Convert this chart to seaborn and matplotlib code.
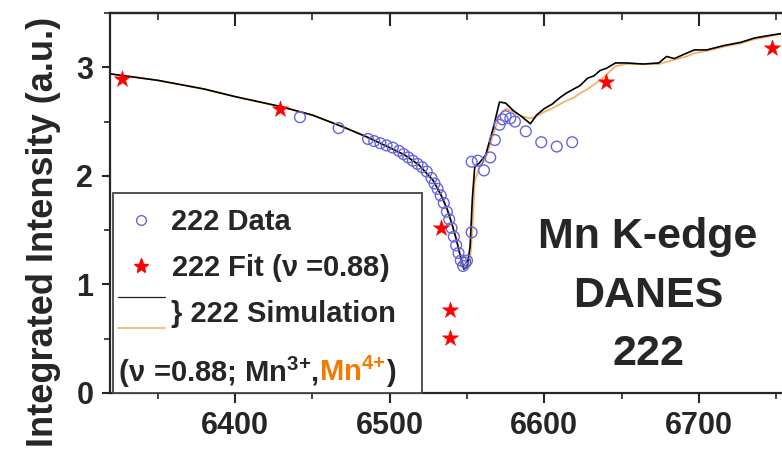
import matplotlib
matplotlib.use("Agg")
import matplotlib.pyplot as plt
import seaborn as sns
from matplotlib.legend_handler import HandlerBase
from matplotlib.lines import Line2D
from matplotlib.patches import Rectangle
from matplotlib.offsetbox import TextArea, HPacker, AnchoredOffsetbox
from matplotlib.ticker import MultipleLocator

# --- measured 222 reflection intensity (open circles) ---
data_energy = [6442, 6467, 6486, 6490, 6494, 6498, 6502, 6506, 6509, 6512,
               6515, 6518, 6521, 6524, 6527, 6529, 6531, 6533, 6535, 6537,
               6538.5, 6540, 6541.5, 6543, 6544.5, 6546, 6547.5, 6549, 6550,
               6553, 6553, 6557, 6561, 6565, 6568, 6571, 6573, 6575, 6578,
               6581, 6588, 6598, 6608, 6618]
data_intensity = [2.54, 2.44, 2.34, 2.32, 2.30, 2.28, 2.26, 2.23, 2.20, 2.17,
                  2.14, 2.11, 2.08, 2.04, 1.98, 1.93, 1.88, 1.82, 1.75, 1.67,
                  1.60, 1.52, 1.44, 1.36, 1.29, 1.22, 1.17, 1.20, 1.22,
                  1.48, 2.13, 2.14, 2.05, 2.17, 2.33, 2.47, 2.52, 2.55, 2.53,
                  2.50, 2.41, 2.31, 2.27, 2.31]

# --- fitted intensities, nu = 0.88 (stars) ---
fit_energy = [6327, 6429, 6533, 6539, 6539, 6640, 6747]
fit_intensity = [2.89, 2.62, 1.52, 0.76, 0.51, 2.86, 3.18]

# --- DANES simulations (Mn3+ black, Mn4+ orange) ---
sim_energy = [6319, 6350, 6380, 6400, 6429, 6450, 6470, 6485, 6500, 6510,
              6519, 6528, 6533, 6537, 6540, 6543, 6546, 6548, 6550, 6552,
              6553.5, 6555, 6558, 6562, 6567, 6571, 6575, 6580, 6585, 6591,
              6595, 6600, 6605, 6610, 6614, 6619, 6623, 6628, 6632, 6636,
              6640, 6646, 6653, 6664, 6674, 6679, 6684, 6692, 6697, 6705,
              6716, 6727, 6736, 6744, 6753]
sim_mn3 = [2.94, 2.88, 2.80, 2.73, 2.64, 2.56, 2.45, 2.36, 2.26, 2.19,
           2.10, 1.96, 1.83, 1.70, 1.57, 1.42, 1.24, 1.14, 1.16, 1.35,
           1.80, 2.08, 2.12, 2.19, 2.44, 2.68, 2.67, 2.60, 2.55, 2.48,
           2.56, 2.62, 2.66, 2.72, 2.76, 2.80, 2.83, 2.90, 2.92, 2.97,
           2.99, 3.04, 3.04, 3.03, 3.04, 3.10, 3.08, 3.13, 3.16, 3.16,
           3.20, 3.23, 3.27, 3.29, 3.31]
sim_mn4 = [2.94, 2.88, 2.80, 2.73, 2.64, 2.56, 2.45, 2.36, 2.26, 2.19,
           2.10, 1.96, 1.83, 1.70, 1.57, 1.42, 1.26, 1.17, 1.15, 1.22,
           1.50, 1.95, 2.08, 2.16, 2.38, 2.56, 2.62, 2.59, 2.55, 2.53,
           2.55, 2.59, 2.62, 2.66, 2.69, 2.72, 2.76, 2.80, 2.84, 2.88,
           2.93, 3.01, 3.03, 3.03, 3.03, 3.05, 3.07, 3.10, 3.13, 3.15,
           3.19, 3.22, 3.26, 3.28, 3.31]

xticks = [6400, 6500, 6600, 6700]
yticks = [0, 1, 2, 3]

BLUE = "#6666dd"
ORANGE = "#f4b066"
TEXT_ORANGE = "#f47a00"
LEG_FS = 21

sns.set_style("ticks")
plt.rcParams.update({
    "font.family": ["Liberation Sans", "DejaVu Sans"],
    "font.weight": "bold",
    "axes.labelweight": "bold",
    "mathtext.fontset": "custom",
    "mathtext.rm": "Liberation Sans:bold",
    "mathtext.bf": "Liberation Sans:bold",
    "mathtext.sf": "Liberation Sans",
    "mathtext.default": "rm",
    "axes.linewidth": 1.6,
    "xtick.major.width": 1.5, "ytick.major.width": 1.5,
    "xtick.minor.width": 1.2, "ytick.minor.width": 1.2,
    "xtick.major.size": 7, "ytick.major.size": 6,
    "xtick.minor.size": 4, "ytick.minor.size": 4,
})

fig = plt.figure(figsize=(7.82, 4.57), dpi=100)
ax = fig.add_axes([110 / 782, 1 - 393 / 457, 671 / 782, 380 / 457])

sns.lineplot(x=sim_energy, y=sim_mn4, color=ORANGE, lw=1.3, sort=False,
             estimator=None, ax=ax, zorder=2)
sns.lineplot(x=sim_energy, y=sim_mn3, color="black", lw=1.2, sort=False,
             estimator=None, ax=ax, zorder=2.5)
sns.scatterplot(x=data_energy, y=data_intensity, marker="o", s=60,
                ax=ax, zorder=3)
ax.collections[-1].set_facecolor("none")
ax.collections[-1].set_edgecolor(BLUE)
ax.collections[-1].set_linewidth(1.0)
sns.scatterplot(x=fit_energy, y=fit_intensity, marker="*", s=150,
                color="red", edgecolor="red", linewidth=0.4, ax=ax, zorder=4)

ax.set_xlim(6319.2, 6753.0)
ax.set_ylim(0, 3.5)
ax.set_xticks(xticks)
ax.set_yticks(yticks)
ax.xaxis.set_minor_locator(MultipleLocator(50))
ax.yaxis.set_minor_locator(MultipleLocator(0.5))
ax.tick_params(which="both", direction="out", labelsize=22, pad=6)
ax.spines["right"].set_visible(False)

top = ax.secondary_xaxis("top")
top.set_xticks(xticks)
top.xaxis.set_minor_locator(MultipleLocator(50))
top.tick_params(which="major", direction="in", length=9, width=1.5, labeltop=False)
top.tick_params(which="minor", direction="in", length=5, width=1.2)
top.spines["top"].set_linewidth(1.6)

ax.set_ylabel("Integrated Intensity (a.u.)", fontsize=26)
ax.yaxis.set_label_coords(-0.073, 0.424)

ax.text(0.802, 0.256, "Mn K-edge\nDANES\n222", transform=ax.transAxes,
        ha="center", va="center", fontsize=31, fontweight="bold",
        linespacing=1.6)

# legend frame
ax.add_patch(Rectangle((0.0045, 0.0), 0.4605, 0.526, transform=ax.transAxes,
                       facecolor="white", edgecolor="#444444", lw=1.3,
                       zorder=5, clip_on=False))


class StackedLines(HandlerBase):
    def create_artists(self, legend, orig_handle, xdescent, ydescent,
                       width, height, fontsize, trans):
        arts = []
        offsets = [0.5 + 0.75, 0.5 - 0.75]
        for ln, off in zip(orig_handle, offsets):
            y = height * off - ydescent
            a = Line2D([-xdescent, -xdescent + width], [y, y],
                       color=ln.get_color(), lw=ln.get_linewidth(),
                       transform=trans)
            arts.append(a)
        return arts


h_data = Line2D([], [], marker="o", ls="none", mfc="none", mec=BLUE,
                ms=7, mew=1.0)
h_fit = Line2D([], [], marker="*", ls="none", color="red", ms=11)
h_sim = (Line2D([], [], color="#222222", lw=0.9),
         Line2D([], [], color=ORANGE, lw=1.2))

leg = ax.legend([h_data, h_fit, h_sim],
                ["222 Data", r"222 Fit ($\mathsf{\nu}$ =0.88)", "} 222 Simulation"],
                handler_map={tuple: StackedLines()},
                loc="upper left", bbox_to_anchor=(0.012, 0.486),
                frameon=False, fontsize=LEG_FS, borderpad=0, borderaxespad=0,
                handlelength=1.6, handletextpad=0.2, labelspacing=0.55)
leg.set_zorder(6)

parts = [
    TextArea("(", textprops=dict(fontsize=LEG_FS, fontweight="bold")),
    TextArea(r"$\mathsf{\nu}$", textprops=dict(fontsize=LEG_FS)),
    TextArea(" =0.88; Mn$^{3{+}}$,", textprops=dict(fontsize=LEG_FS, fontweight="bold")),
    TextArea("Mn$^{4{+}}$", textprops=dict(fontsize=LEG_FS, fontweight="bold",
                                            color=TEXT_ORANGE)),
    TextArea(")", textprops=dict(fontsize=LEG_FS, fontweight="bold")),
]
row = HPacker(children=parts, align="baseline", pad=0, sep=0)
box = AnchoredOffsetbox(loc="center left", child=row, pad=0, borderpad=0,
                        frameon=False, bbox_to_anchor=(0.012, 0.058),
                        bbox_transform=ax.transAxes)
box.set_zorder(6)
ax.add_artist(box)

fig.savefig("out.png", dpi=100)
